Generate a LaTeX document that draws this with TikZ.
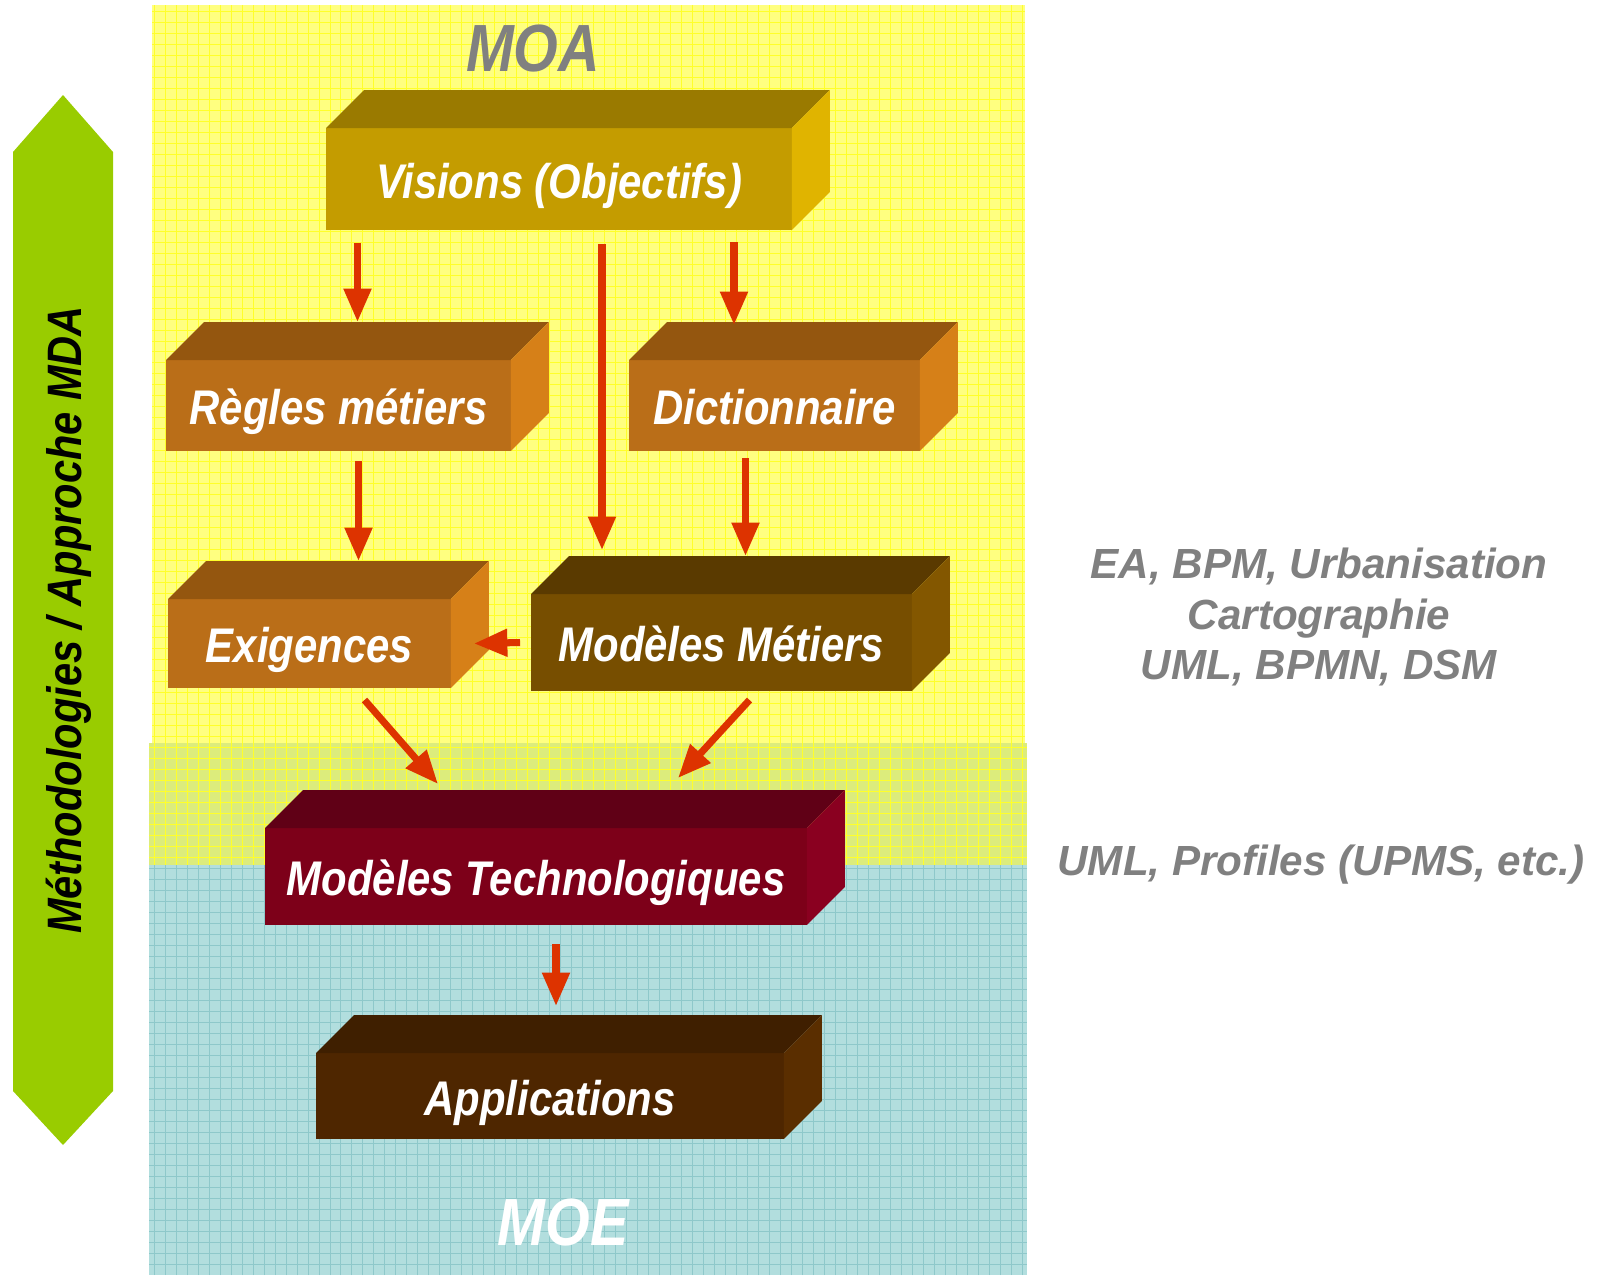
\documentclass[tikz,border=0pt]{standalone}
\usepackage{fontspec}
\usepackage{xcolor}
\usetikzlibrary{arrows.meta,calc}

\newfontfamily\narrowsf[FakeStretch=0.86]{Liberation Sans}
\newfontfamily\widesf{Liberation Sans}

\definecolor{moafill}{HTML}{FFFF80}
\definecolor{moaline}{HTML}{FFFF2A}
\definecolor{moefill}{HTML}{B2DEDE}
\definecolor{moeline}{HTML}{8EC8CA}
\definecolor{mixfill}{HTML}{DCEC7C}
\definecolor{flowred}{HTML}{DD3300}
\definecolor{mdagreen}{HTML}{99CC00}
\definecolor{labelgray}{HTML}{808080}
\definecolor{visfront}{HTML}{C49C00}
\definecolor{vistop}{HTML}{9A7A00}
\definecolor{visside}{HTML}{E0B400}
\definecolor{orfront}{HTML}{BA6E18}
\definecolor{ortop}{HTML}{94560F}
\definecolor{orside}{HTML}{D68018}
\definecolor{mmfront}{HTML}{774E00}
\definecolor{mmtop}{HTML}{5A3A00}
\definecolor{mmside}{HTML}{835700}
\definecolor{mtfront}{HTML}{7D0019}
\definecolor{mttop}{HTML}{600016}
\definecolor{mtside}{HTML}{8A0020}
\definecolor{apfront}{HTML}{4E2600}
\definecolor{aptop}{HTML}{3F1F00}
\definecolor{apside}{HTML}{5A2E00}

\tikzset{
  brick/.style={rectangle, outer sep=0pt, inner sep=0pt, text=white,
    text height=25.5pt, text depth=3.6pt,
    font=\narrowsf\bfseries\itshape\fontsize{27.7}{32}\selectfont},
  flow/.style={-{Triangle[length=19pt,width=15pt]}, line width=4pt, flowred},
  zone/.style={font=\narrowsf\bfseries\itshape\fontsize{38}{44}\selectfont},
  tool/.style={labelgray, align=center,
    font=\widesf\bfseries\itshape\fontsize{24}{29}\selectfont}
}

% name, x, y, width, height, front, top, side, text
\newcommand\brick[9]{%
  \node[brick, fill=#6, minimum width=#4, minimum height=#5] (#1) at (#2,#3) {#9};
  \fill[#7] (#1.north west) -- ++(38,-38) -- ($(#1.north east)+(38,-38)$) -- (#1.north east) -- cycle;
  \fill[#8] (#1.north east) -- ++(38,-38) -- ($(#1.south east)+(38,-38)$) -- (#1.south east) -- cycle;
  \coordinate (#1-t) at ($(#1.north)+(19,-38)$);
}

\begin{document}
\begin{tikzpicture}[x=0.02cm, y=-0.02cm]
\useasboundingbox (0,0) rectangle (1606,1275);

% zones
\fill[moafill] (152,5) rectangle (1025,743);
\draw[moaline, line width=0.5pt, step=0.22cm] (152,5) grid (1025,743);
\fill[moefill] (149,865) rectangle (1027,1275);
\draw[moeline, line width=0.5pt, step=0.22cm] (149,865) grid (1027,1275);
\fill[mixfill] (149,743) rectangle (1027,865);
\draw[moaline, line width=0.5pt, step=0.22cm] (149,743) grid (1027,865);

\node[zone, text=labelgray] (moa) at (533,49) {MOA};
\node[zone, text=white] (moe) at (563,1222) {MOE};

% methodologies
\fill[mdagreen] (13,152) -- (63,95) -- (113,152) -- (113,1091) -- (63,1145) -- (13,1091) -- cycle;
\node[rotate=90, font=\narrowsf\bfseries\itshape\fontsize{27.5}{32}\selectfont] (mda) at (69,620) {Méthodologies / Approche MDA};

\brick{vis}{559}{179}{9.32cm}{2.04cm}{visfront}{vistop}{visside}{Visions (Objectifs)}
\brick{regles}{338.5}{405.5}{6.9cm}{1.82cm}{orfront}{ortop}{orside}{Règles métiers}
\brick{dico}{774.5}{405.5}{5.82cm}{1.82cm}{orfront}{ortop}{orside}{Dictionnaire}
\brick{exig}{309.5}{643.5}{5.66cm}{1.78cm}{orfront}{ortop}{orside}{Exigences}
\brick{modmet}{721.5}{642.5}{7.62cm}{1.94cm}{mmfront}{mmtop}{mmside}{Modèles Métiers}
\brick{modtech}{536}{876.5}{10.84cm}{1.94cm}{mtfront}{mttop}{mtside}{Modèles Technologiques}
\brick{appli}{550}{1096}{9.36cm}{1.72cm}{apfront}{aptop}{apside}{Applications}

\draw[flow] ($(vis.south -| regles-t)+(0,13)$) -- (regles-t);
\draw[flow] ($(vis.south)+(43,14)$) coordinate (v2) -- ($(v2 |- modmet-t)+(0,-6)$);
\draw[flow] ($(vis.south)+(175,12)$) coordinate (v3) -- ($(v3 |- dico-t)+(0,3)$);
\draw[flow] ($(regles.south)+(20,10)$) coordinate (r1) -- (r1 |- exig-t);
\draw[flow] ($(dico.south)+(-29,7)$) coordinate (d1) -- (d1 |- modmet-t);
\draw[flow] ($(modmet.west)+(-11,0)$) -- ($(exig.east)+(23,0)$);
\draw[flow] ($(exig.south)+(55,12)$) -- ($(modtech-t)+(-117,-6)$);
\draw[flow] ($(modmet.south)+(28,9)$) -- ($(modtech-t)+(123,-12)$);
\draw[flow] ($(modtech.south)+(20,19)$) coordinate (m1) -- ($(m1 |- appli-t)+(0,-9)$);

\node[tool] (outils) at (1319,617) {EA, BPM, Urbanisation\\Cartographie\\UML, BPMN, DSM};
\node[tool] (profils) at (1321,865) {UML, Profiles (UPMS, etc.)};
\end{tikzpicture}
\end{document}
